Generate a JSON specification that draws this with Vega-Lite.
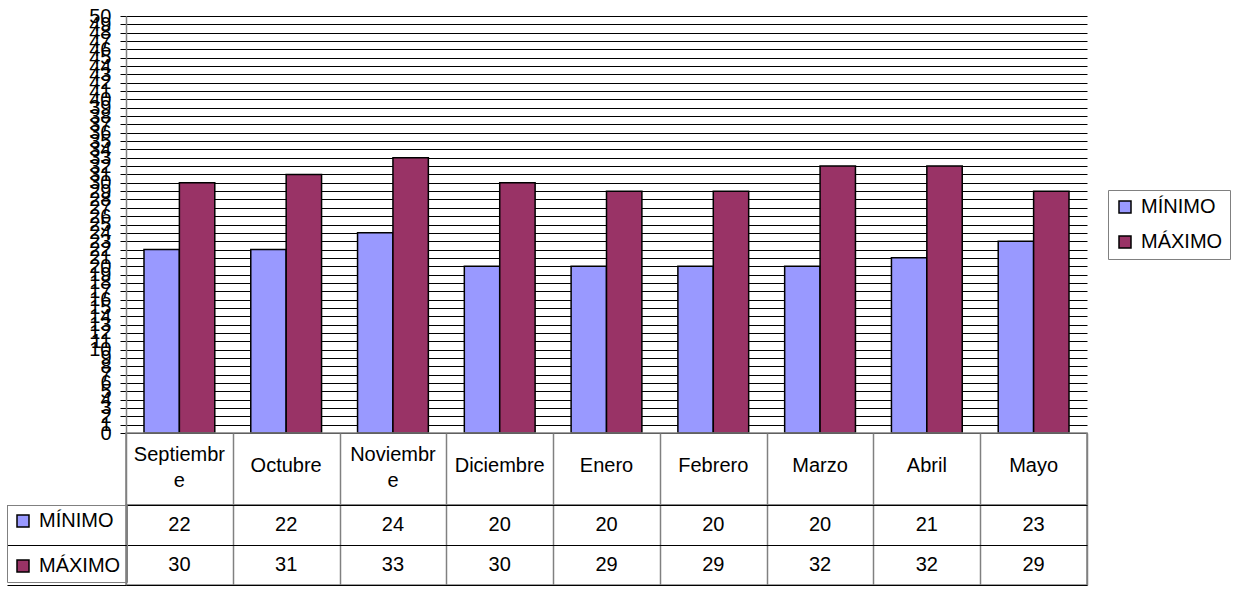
{
  "$schema": "https://vega.github.io/schema/vega-lite/v6.json",
  "background": "white",
  "padding": {"left": 5, "top": 6, "right": 0, "bottom": 0},
  "spacing": 0,
  "bounds": "flush",
  "config": {
    "font": "Liberation Sans",
    "view": {"stroke": null},
    "axis": {"labelColor": "black", "labelFont": "Liberation Sans"},
    "legend": {"labelColor": "black", "labelFont": "Liberation Sans"}
  },
  "datasets": {
    "temps": [
      {"mes": "Septiembre", "serie": "MÍNIMO", "valor": 22},
      {"mes": "Octubre", "serie": "MÍNIMO", "valor": 22},
      {"mes": "Noviembre", "serie": "MÍNIMO", "valor": 24},
      {"mes": "Diciembre", "serie": "MÍNIMO", "valor": 20},
      {"mes": "Enero", "serie": "MÍNIMO", "valor": 20},
      {"mes": "Febrero", "serie": "MÍNIMO", "valor": 20},
      {"mes": "Marzo", "serie": "MÍNIMO", "valor": 20},
      {"mes": "Abril", "serie": "MÍNIMO", "valor": 21},
      {"mes": "Mayo", "serie": "MÍNIMO", "valor": 23},
      {"mes": "Septiembre", "serie": "MÁXIMO", "valor": 30},
      {"mes": "Octubre", "serie": "MÁXIMO", "valor": 31},
      {"mes": "Noviembre", "serie": "MÁXIMO", "valor": 33},
      {"mes": "Diciembre", "serie": "MÁXIMO", "valor": 30},
      {"mes": "Enero", "serie": "MÁXIMO", "valor": 29},
      {"mes": "Febrero", "serie": "MÁXIMO", "valor": 29},
      {"mes": "Marzo", "serie": "MÁXIMO", "valor": 32},
      {"mes": "Abril", "serie": "MÁXIMO", "valor": 32},
      {"mes": "Mayo", "serie": "MÁXIMO", "valor": 29}
    ]
  },
  "resolve": {
    "scale": {"x": "independent", "y": "independent", "color": "independent", "fill": "independent"},
    "legend": {"color": "independent", "fill": "independent"}
  },
  "vconcat": [
    {
      "width": 961,
      "height": 417,
      "data": {"name": "temps"},
      "mark": {"type": "bar", "stroke": "black", "strokeWidth": 1.5},
      "encoding": {
        "x": {
          "field": "mes", "type": "nominal",
          "sort": ["Septiembre", "Octubre", "Noviembre", "Diciembre", "Enero", "Febrero", "Marzo", "Abril", "Mayo"],
          "scale": {"paddingInner": 0.337, "paddingOuter": 0.1685},
          "axis": null
        },
        "xOffset": {"field": "serie", "type": "nominal", "sort": ["MÍNIMO", "MÁXIMO"], "scale": {"paddingInner": 0, "paddingOuter": 0}},
        "y": {
          "field": "valor", "type": "quantitative",
          "scale": {"domain": [0, 50], "nice": false},
          "axis": {
            "title": null, "tickCount": 50, "labelOverlap": false, "labelFlush": false,
            "grid": true, "gridColor": "black", "gridWidth": 1, "gridOpacity": 1,
            "domainColor": "#808080", "domainWidth": 1.5,
            "tickColor": "black", "tickSize": 6, "tickWidth": 1,
            "labelFontSize": 20, "labelPadding": 9
          }
        },
        "color": {
          "field": "serie", "type": "nominal", "sort": ["MÍNIMO", "MÁXIMO"],
          "scale": {"range": ["#9999FF", "#993366"]},
          "legend": {
            "title": null, "orient": "none", "legendX": 982, "legendY": 174, "direction": "vertical",
            "symbolType": "square", "symbolSize": 144, "symbolStrokeColor": "black", "symbolStrokeWidth": 1.5,
            "labelFontSize": 20, "labelOffset": 6, "strokeColor": "#808080", "fillColor": "white",
            "padding": 7, "rowPadding": 15
          }
        }
      }
    },
    {
      "width": 961,
      "height": 72,
      "view": {"stroke": "#808080", "strokeWidth": 1.5},
      "data": {"name": "temps"},
      "transform": [{"filter": "datum.serie == 'MÍNIMO'"}],
      "mark": {
        "type": "text", "fontSize": 20, "color": "black", "baseline": "middle", "lineHeight": 26,
        "text": {"expr": "datum.mes == 'Septiembre' ? ['Septiembr', 'e'] : (datum.mes == 'Noviembre' ? ['Noviembr', 'e'] : datum.mes)"},
        "dy": {"expr": "(datum.mes == 'Septiembre' || datum.mes == 'Noviembre') ? -14 : -3"}
      },
      "encoding": {
        "x": {
          "field": "mes", "type": "nominal",
          "sort": ["Septiembre", "Octubre", "Noviembre", "Diciembre", "Enero", "Febrero", "Marzo", "Abril", "Mayo"],
          "scale": {"paddingInner": 0, "paddingOuter": 0},
          "axis": {"title": null, "labels": false, "ticks": false, "domain": false, "grid": true, "gridColor": "#808080", "gridWidth": 1.5, "gridOpacity": 1, "tickBand": "extent"}
        }
      }
    },
    {
      "width": 961,
      "height": 80,
      "view": {"stroke": "#808080", "strokeWidth": 1.5},
      "data": {"name": "temps"},
      "encoding": {
        "x": {
          "field": "mes", "type": "nominal",
          "sort": ["Septiembre", "Octubre", "Noviembre", "Diciembre", "Enero", "Febrero", "Marzo", "Abril", "Mayo"],
          "scale": {"paddingInner": 0, "paddingOuter": 0},
          "axis": {"title": null, "labels": false, "ticks": false, "domain": false, "grid": true, "gridColor": "#808080", "gridWidth": 1.5, "gridOpacity": 1, "tickBand": "extent"}
        },
        "y": {
          "field": "serie", "type": "nominal", "sort": ["MÍNIMO", "MÁXIMO"],
          "scale": {"paddingInner": 0, "paddingOuter": 0},
          "axis": {"title": null, "labels": false, "domain": false, "ticks": true, "tickSize": 119, "tickColor": "black", "tickWidth": 1.2, "grid": true, "gridColor": "black", "gridWidth": 1.2, "gridOpacity": 1, "tickBand": "extent"}
        }
      },
      "layer": [
        {
          "mark": {"type": "text", "fontSize": 20, "color": "black", "baseline": "middle"},
          "encoding": {"text": {"field": "valor", "type": "quantitative"}}
        },
        {
          "mark": {"type": "square", "opacity": 0},
          "encoding": {
            "fill": {
              "field": "serie", "type": "nominal", "sort": ["MÍNIMO", "MÁXIMO"],
              "scale": {"range": ["#9999FF", "#993366"]},
              "legend": {
                "title": null, "orient": "none", "legendX": -119, "legendY": 0, "direction": "vertical",
                "symbolType": "square", "symbolSize": 144, "symbolStrokeColor": "black", "symbolStrokeWidth": 1.5,
                "symbolOpacity": 1, "labelFontSize": 20, "labelOffset": 6, "strokeColor": "#808080",
                "padding": 6, "rowPadding": 25
              }
            }
          }
        }
      ]
    }
  ]
}
